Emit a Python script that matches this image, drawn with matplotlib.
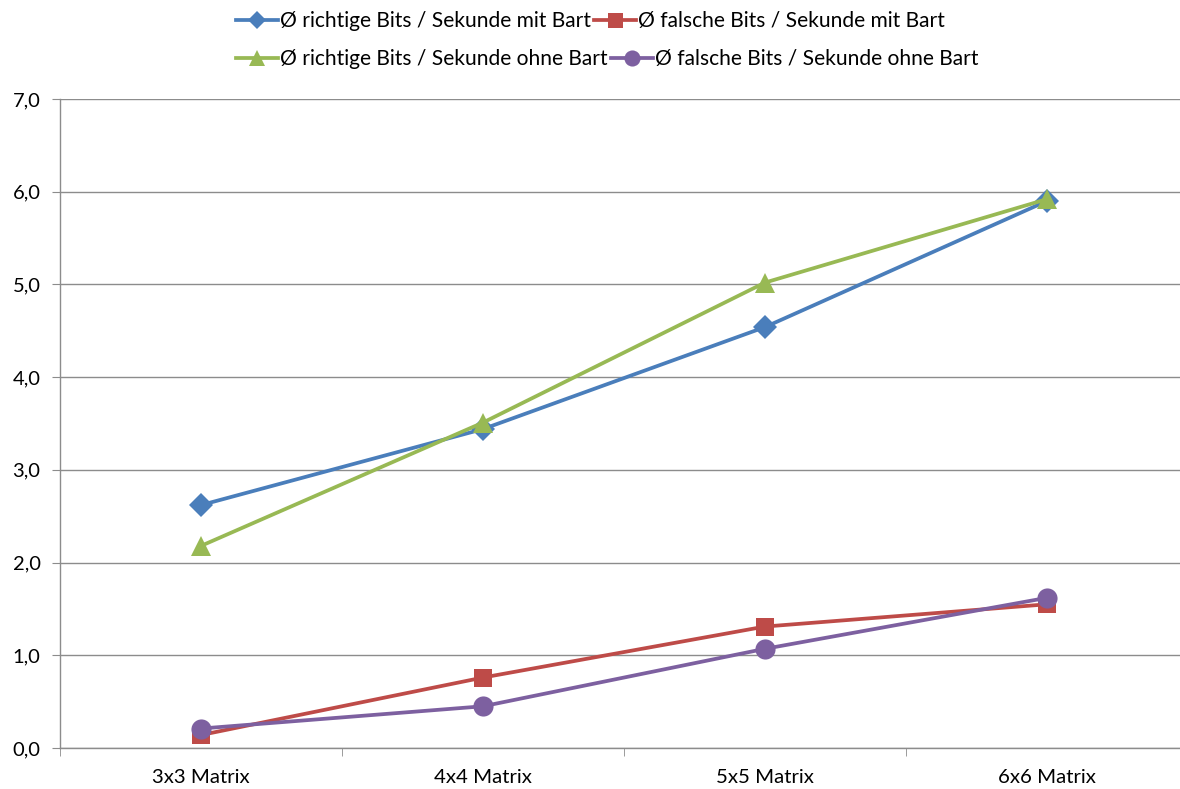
import numpy as np
import matplotlib.pyplot as plt
from matplotlib.ticker import FixedLocator, MultipleLocator, FuncFormatter

categories = ["3x3 Matrix", "4x4 Matrix", "5x5 Matrix", "6x6 Matrix"]
richtig_mit = [2.62, 3.44, 4.54, 5.90]
falsch_mit = [0.14, 0.76, 1.31, 1.55]
richtig_ohne = [2.18, 3.51, 5.02, 5.92]
falsch_ohne = [0.21, 0.45, 1.07, 1.62]

plt.rcParams['font.family'] = ['Lato', 'DejaVu Sans']

fig = plt.figure(figsize=(11.8, 7.89), dpi=100)
ax = fig.add_axes([60 / 1180, 41 / 789, 1128 / 1180, 649 / 789])

x = np.arange(len(categories))
series = [
    (richtig_mit, "Ø richtige Bits / Sekunde mit Bart", "#4A7EBB", "D", 12),
    (falsch_mit, "Ø falsche Bits / Sekunde mit Bart", "#BE4B48", "s", 13.5),
    (richtig_ohne, "Ø richtige Bits / Sekunde ohne Bart", "#98B954", "^", 15),
    (falsch_ohne, "Ø falsche Bits / Sekunde ohne Bart", "#7D60A0", "o", 14.5),
]
handles = []
for vals, label, col, mk, ms in series:
    h, = ax.plot(x, vals, color=col, lw=2.7, marker=mk, markersize=ms,
                 markeredgewidth=0, label=label, zorder=3)
    handles.append(h)

ax.set_xlim(-0.5, 3.5)
ax.set_ylim(0, 7)
ax.yaxis.set_major_locator(MultipleLocator(1))
ax.yaxis.set_major_formatter(FuncFormatter(lambda v, p: f"{v:.1f}".replace(".", ",")))
ax.grid(axis='y', color='#8c8c8c', lw=1)
ax.set_axisbelow(True)

ax.set_xticks(x)
ax.set_xticklabels(categories)
ax.xaxis.set_minor_locator(FixedLocator([-0.5, 0.5, 1.5, 2.5]))
ax.tick_params(axis='x', which='major', length=0, pad=15, labelsize=14.7)
ax.tick_params(axis='x', which='minor', length=6, color='#8c8c8c')
ax.tick_params(axis='y', length=6, color='#8c8c8c', labelsize=14.5, pad=8)

for s in ['top', 'right']:
    ax.spines[s].set_visible(False)
for s in ['left', 'bottom']:
    ax.spines[s].set_color('#8c8c8c')
    ax.spines[s].set_linewidth(1)

# legend rows flow independently, two entries each
for row, ypix in [(handles[0:2], 21), (handles[2:4], 59)]:
    fig.legend(handles=row, loc='center left',
               bbox_to_anchor=(236 / 1180, 1 - ypix / 789), ncol=2,
               frameon=False, fontsize=15.1, handlelength=2.0,
               handletextpad=0.1, columnspacing=0.15, borderpad=0,
               borderaxespad=0, markerscale=0.8)

fig.savefig("out.png", dpi=100)
